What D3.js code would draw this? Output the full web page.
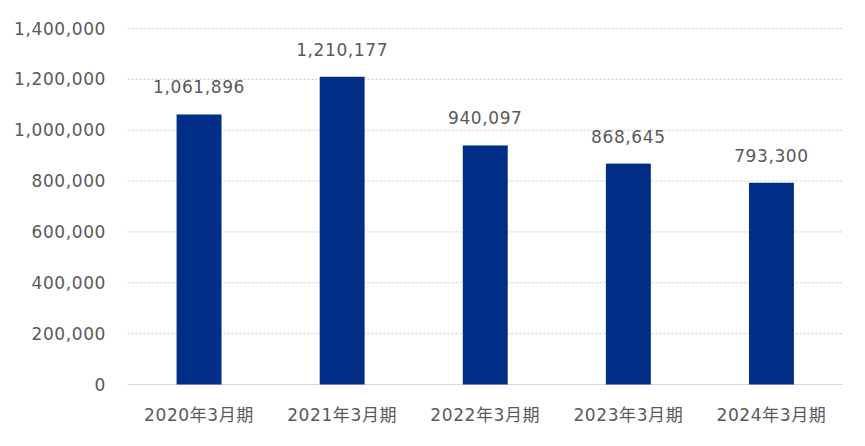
<!DOCTYPE html>
<html>
<head>
  <meta charset="utf-8">
  <script src="https://d3js.org/d3.v7.min.js"></script>
  <style>
    body { margin: 0; background: #fff; }
    text { font-family: "DejaVu Sans", "Noto Sans CJK JP", sans-serif; fill: #595959; letter-spacing: 0.6px; }
  </style>
</head>
<body>
<div id="chart"></div>
<script>
  // data
  var categories = ["2020年3月期", "2021年3月期", "2022年3月期", "2023年3月期", "2024年3月期"];
  var values = [1061896, 1210177, 940097, 868645, 793300];
  var yTicks = [0, 200000, 400000, 600000, 800000, 1000000, 1200000, 1400000];

  var width = 865, height = 446;
  var margin = { top: 28.5, right: 22, bottom: 61.5, left: 127.5 };

  var svg = d3.select("#chart").append("svg")
    .attr("width", width)
    .attr("height", height);

  var x = d3.scaleBand()
    .domain(categories)
    .range([margin.left, width - margin.right])
    .paddingInner(0.686)
    .paddingOuter(0.343);

  var y = d3.scaleLinear()
    .domain([0, 1400000])
    .range([height - margin.bottom, margin.top]);

  var fmt = d3.format(",");

  // gridlines
  svg.append("g")
    .selectAll("line")
    .data(yTicks)
    .enter().append("line")
    .attr("x1", margin.left)
    .attr("x2", width - margin.right)
    .attr("y1", function(d) { return y(d); })
    .attr("y2", function(d) { return y(d); })
    .attr("stroke", function(d) { return d === 0 ? "#d9d9d9" : "#c8c8c8"; })
    .attr("stroke-width", 1)
    .attr("stroke-dasharray", function(d) { return d === 0 ? null : "2,2"; });

  // y axis labels
  svg.append("g")
    .selectAll("text")
    .data(yTicks)
    .enter().append("text")
    .attr("x", 106)
    .attr("y", function(d) { return y(d); })
    .attr("dy", "0.36em")
    .attr("text-anchor", "end")
    .style("font-size", "17px")
    .text(function(d) { return fmt(d); });

  // bars
  svg.append("g")
    .selectAll("rect")
    .data(values)
    .enter().append("rect")
    .attr("x", function(d, i) { return x(categories[i]); })
    .attr("width", x.bandwidth())
    .attr("y", function(d) { return y(d); })
    .attr("height", function(d) { return y(0) - y(d); })
    .attr("fill", "#002e87");

  // value labels
  svg.append("g")
    .selectAll("text")
    .data(values)
    .enter().append("text")
    .attr("x", function(d, i) { return x(categories[i]) + x.bandwidth() / 2; })
    .attr("y", function(d) { return y(d) - 21; })
    .attr("text-anchor", "middle")
    .style("font-size", "17px")
    .text(function(d) { return fmt(d); });

  // x axis labels
  svg.append("g")
    .selectAll("text")
    .data(categories)
    .enter().append("text")
    .attr("x", function(d) { return x(d) + x.bandwidth() / 2; })
    .attr("y", 421)
    .attr("text-anchor", "middle")
    .style("font-size", "17px")
    .text(function(d) { return d; });
</script>
</body>
</html>
